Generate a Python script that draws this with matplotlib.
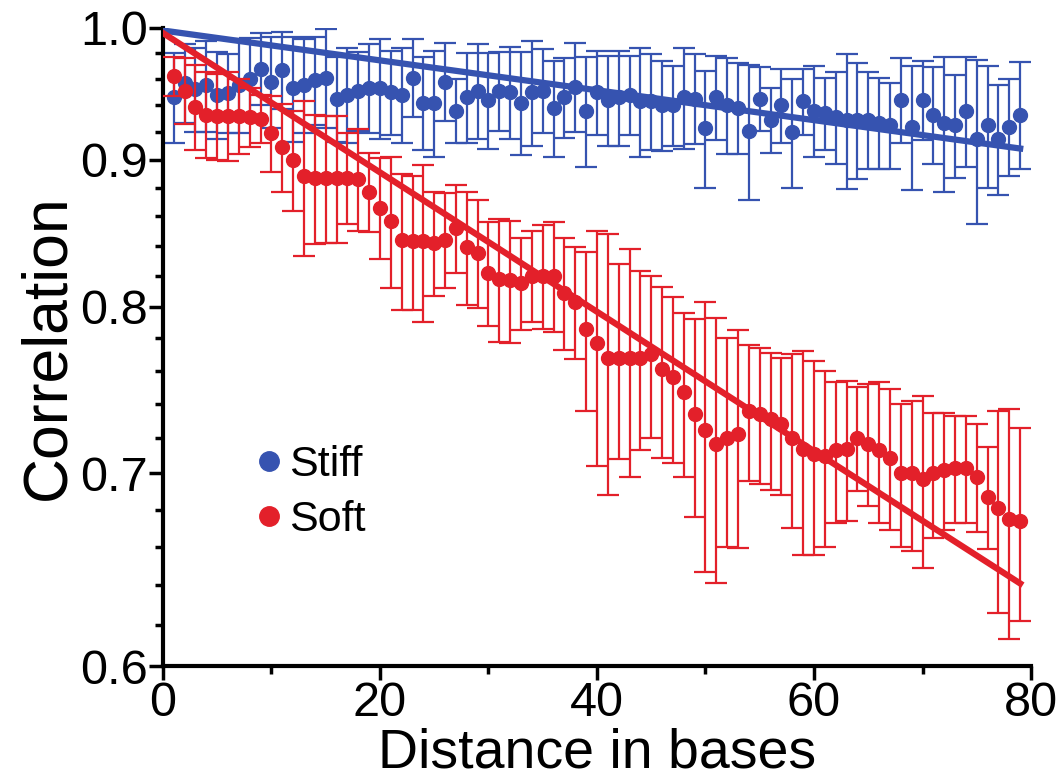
import numpy as np
import matplotlib
matplotlib.use('Agg')
import matplotlib.pyplot as plt
from matplotlib.lines import Line2D
from matplotlib.ticker import FixedLocator, NullFormatter

plt.rcParams['font.family'] = ['Liberation Sans', 'DejaVu Sans']

# ── data ───────────────────────────────────────────────────────────────────
distance = list(range(1, 80))

stiff_corr = [
    0.946, 0.957, 0.952, 0.955, 0.948, 0.949, 0.955, 0.960, 0.968, 0.958,
    0.967, 0.953, 0.955, 0.959, 0.961, 0.945, 0.948, 0.951, 0.953, 0.953,
    0.950, 0.948, 0.961, 0.942, 0.942, 0.958, 0.936, 0.946, 0.951, 0.944,
    0.951, 0.950, 0.942, 0.950, 0.951, 0.938, 0.946, 0.954, 0.936, 0.950,
    0.944, 0.946, 0.948, 0.943, 0.943, 0.940, 0.940, 0.946, 0.945, 0.923,
    0.946, 0.940, 0.938, 0.921, 0.945, 0.929, 0.940, 0.920, 0.943, 0.936,
    0.934, 0.931, 0.929, 0.929, 0.929, 0.927, 0.925, 0.944, 0.924, 0.944,
    0.933, 0.927, 0.925, 0.936, 0.915, 0.925, 0.915, 0.924, 0.933,
]
stiff_err = [
    0.034, 0.030, 0.032, 0.035, 0.033, 0.030, 0.036, 0.032, 0.028, 0.035,
    0.030, 0.040, 0.036, 0.034, 0.038, 0.032, 0.036, 0.030, 0.034, 0.038,
    0.032, 0.036, 0.030, 0.035, 0.040, 0.030, 0.024, 0.034, 0.036, 0.036,
    0.030, 0.035, 0.039, 0.040, 0.032, 0.036, 0.030, 0.034, 0.041, 0.032,
    0.034, 0.036, 0.030, 0.041, 0.036, 0.034, 0.030, 0.038, 0.034, 0.043,
    0.032, 0.036, 0.034, 0.050, 0.024, 0.024, 0.028, 0.040, 0.025, 0.034,
    0.027, 0.034, 0.050, 0.043, 0.036, 0.034, 0.032, 0.032, 0.046, 0.030,
    0.036, 0.050, 0.038, 0.041, 0.060, 0.045, 0.040, 0.036, 0.040,
]

soft_corr = [
    0.962, 0.951, 0.939, 0.933, 0.932, 0.932, 0.932, 0.931, 0.930, 0.919,
    0.909, 0.900, 0.888, 0.887, 0.887, 0.887, 0.887, 0.886, 0.877, 0.866,
    0.857, 0.844, 0.843, 0.843, 0.842, 0.844, 0.852, 0.839, 0.835, 0.822,
    0.818, 0.817, 0.815, 0.820, 0.820, 0.820, 0.809, 0.803, 0.786, 0.777,
    0.768, 0.768, 0.768, 0.768, 0.770, 0.761, 0.756, 0.747, 0.734, 0.725,
    0.717, 0.720, 0.7225, 0.736, 0.734, 0.731, 0.728, 0.720, 0.714, 0.711,
    0.710, 0.713, 0.714, 0.720, 0.717, 0.713, 0.709, 0.700, 0.700, 0.697,
    0.700, 0.702, 0.703, 0.703, 0.698, 0.687, 0.681, 0.675, 0.674,
]
soft_err = [
    0.015, 0.025, 0.032, 0.032, 0.032, 0.033, 0.028, 0.022, 0.018, 0.028,
    0.032, 0.036, 0.055, 0.046, 0.045, 0.045, 0.032, 0.036, 0.028, 0.035,
    0.045, 0.046, 0.045, 0.053, 0.035, 0.032, 0.030, 0.038, 0.036, 0.034,
    0.040, 0.040, 0.030, 0.030, 0.034, 0.036, 0.036, 0.036, 0.050, 0.073,
    0.080, 0.060, 0.070, 0.055, 0.050, 0.052, 0.050, 0.049, 0.058, 0.078,
    0.076, 0.060, 0.063, 0.040, 0.040, 0.040, 0.040, 0.050, 0.058, 0.055,
    0.050, 0.040, 0.040, 0.030, 0.035, 0.040, 0.040, 0.040, 0.042, 0.048,
    0.035, 0.033, 0.030, 0.030, 0.030, 0.028, 0.055, 0.062, 0.052,
]

# exponential fits (straight on the log axis), value at x=0 and x=79
fit_x     = [0, 79]
stiff_fit = [0.998, 0.908]
soft_fit  = [0.996, 0.641]

blue = '#3653b0'
red  = '#e3202a'

fig = plt.figure(figsize=(10.58, 7.84), dpi=100)
ax = fig.add_axes([0.154, 0.1505, 0.8205, 0.8138])

ax.errorbar(distance, stiff_corr, yerr=stiff_err, fmt='o', color=blue,
            markersize=10, elinewidth=1.6, capsize=8, capthick=1.6, zorder=2)
ax.plot(fit_x, stiff_fit, color=blue, linewidth=4.5, zorder=3)

ax.errorbar(distance, soft_corr, yerr=soft_err, fmt='o', color=red,
            markersize=10, elinewidth=1.6, capsize=8, capthick=1.6, zorder=4)
ax.plot(fit_x, soft_fit, color=red, linewidth=4.5, zorder=5)

ax.set_yscale('log')
ax.set_ylim(0.6, 1.0)
ax.set_xlim(0, 80)

ax.yaxis.set_major_locator(FixedLocator([0.6, 0.7, 0.8, 0.9, 1.0]))
ax.yaxis.set_minor_locator(FixedLocator(np.arange(0.62, 0.99, 0.02)))
ax.yaxis.set_minor_formatter(NullFormatter())
ax.set_yticklabels(['0.6', '0.7', '0.8', '0.9', '1.0'])
ax.set_xticks([0, 20, 40, 60, 80])
ax.set_xticks([10, 30, 50, 70], minor=True)

ax.tick_params(axis='both', which='major', direction='out', length=10, width=2.5,
               labelsize=35, pad=1)
ax.tick_params(axis='both', which='minor', direction='out', length=6, width=2.5)

for side in ['top', 'right']:
    ax.spines[side].set_visible(False)
for side in ['left', 'bottom']:
    ax.spines[side].set_linewidth(3)

ax.set_xlabel('Distance in bases', fontsize=40, labelpad=1)
ax.set_ylabel('Correlation', fontsize=45, labelpad=2)

handles = [
    Line2D([], [], marker='o', linestyle='none', color=blue, markersize=14),
    Line2D([], [], marker='o', linestyle='none', color=red, markersize=14),
]
ax.legend(handles, ['Stiff', 'Soft'], loc='center left',
          bbox_to_anchor=(0.078, 0.272), frameon=False, fontsize=31,
          handlelength=0.8, handletextpad=0.05, labelspacing=0.36, borderpad=0)

fig.savefig('out.png', dpi=100)
